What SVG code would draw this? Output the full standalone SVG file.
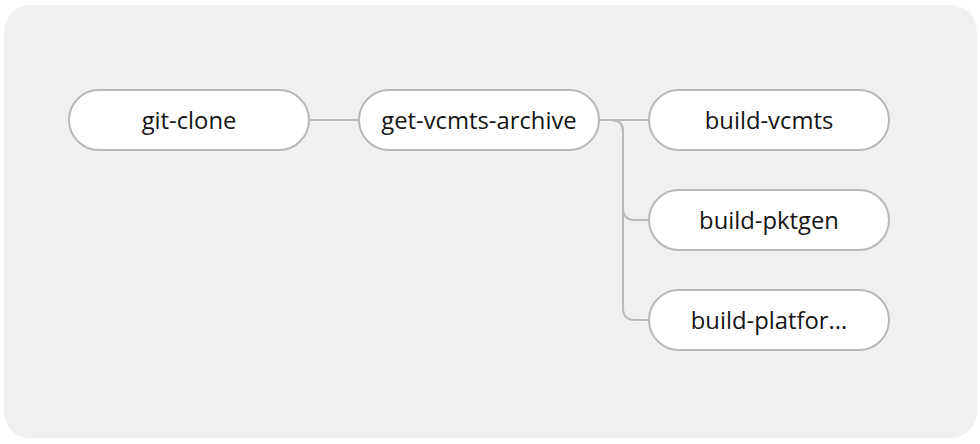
<svg xmlns="http://www.w3.org/2000/svg" width="980" height="444" viewBox="0 0 980 444">
<style>
.node rect{fill:#fff;stroke:#b8b8b8;stroke-width:2}
.node text{font-family:"Open Sans","Noto Sans",sans-serif;font-size:23.8px;fill:#151515;text-anchor:middle}
.edge{fill:none;stroke:#b8bbbe;stroke-width:2}
</style>
<rect x="4" y="5" width="973" height="433" rx="26" fill="#f0f0f0"/>
<g id="connectors">
<path class="edge" d="M309,120 H359"/>
<path class="edge" d="M599,120 H649"/>
<path class="edge" d="M599,120 H611 Q623,120 623,132 V208 Q623,220 635,220 H649"/>
<path class="edge" d="M599,120 H611 Q623,120 623,132 V308 Q623,320 635,320 H649"/>
</g>
<g id="git-clone" class="node"><rect x="69" y="90" width="240" height="60" rx="30"/><text x="189" y="129">git-clone</text></g>
<g id="get-vcmts-archive" class="node"><rect x="359" y="90" width="240" height="60" rx="30"/><text x="479" y="129">get-vcmts-archive</text></g>
<g id="build-vcmts" class="node"><rect x="649" y="90" width="240" height="60" rx="30"/><text x="769" y="129">build-vcmts</text></g>
<g id="build-pktgen" class="node"><rect x="649" y="190" width="240" height="60" rx="30"/><text x="769" y="229">build-pktgen</text></g>
<g id="build-platform" class="node"><rect x="649" y="290" width="240" height="60" rx="30"/><text x="769" y="329">build-platfor...</text></g>
</svg>
